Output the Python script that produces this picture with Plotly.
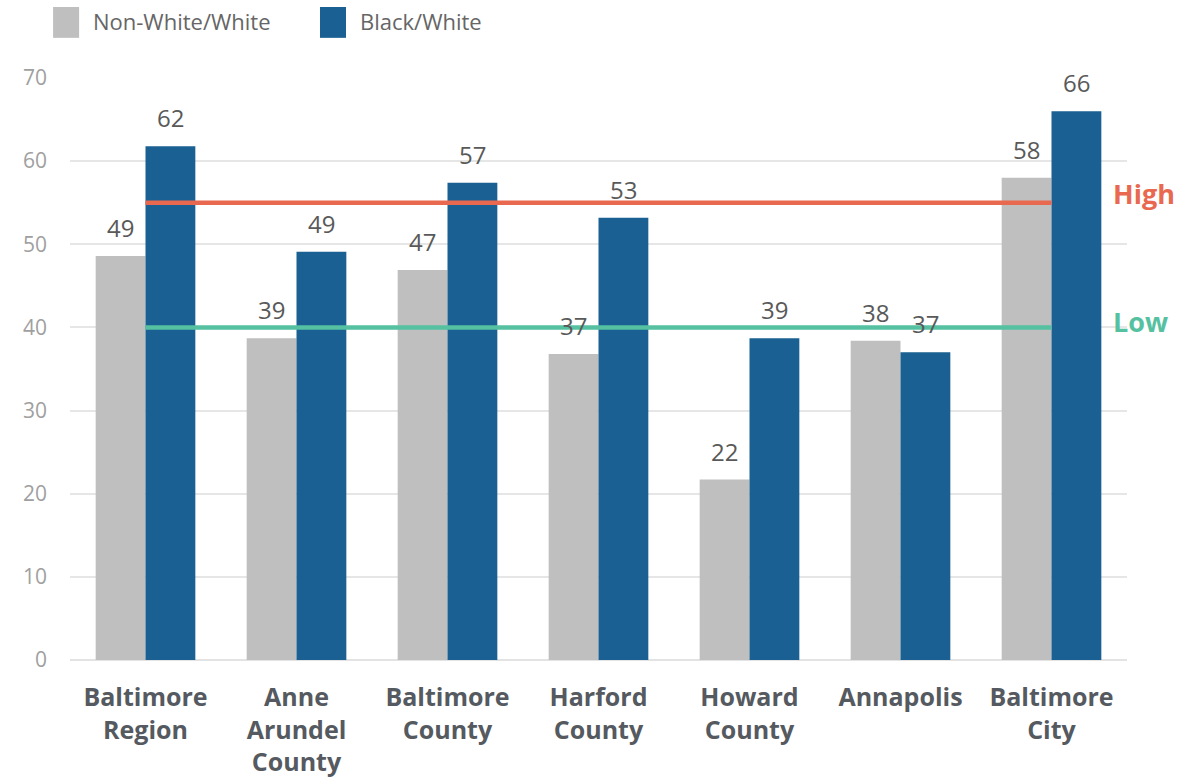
import plotly.graph_objects as go

categories = ["Baltimore<br>Region", "Anne<br>Arundel<br>County", "Baltimore<br>County",
              "Harford<br>County", "Howard<br>County", "Annapolis", "Baltimore<br>City"]
series_names = ["Non-White/White", "Black/White"]
non_white = [48.6, 38.7, 46.9, 36.8, 21.7, 38.4, 58.0]
black = [61.8, 49.1, 57.4, 53.2, 38.7, 37.0, 66.0]
threshold_names = ["High", "Low"]
threshold_values = [55, 40]
y_ticks = [0, 10, 20, 30, 40, 50, 60, 70]

GRAY = "#BFBFBF"
BLUE = "#1A6092"
RED = "#E8694F"
GREEN = "#55C1A0"
colors = [GRAY, BLUE]
thr_colors = [RED, GREEN]

BARGAP = 0.34
fig = go.Figure()
for name, vals, col in zip(series_names, [non_white, black], colors):
    fig.add_trace(go.Bar(x=categories, y=vals, name=name, marker=dict(color=col, line=dict(width=0)),
                         showlegend=False, hoverinfo="y"))

for name, val, col in zip(threshold_names, threshold_values, thr_colors):
    fig.add_trace(go.Scatter(x=[categories[0], categories[-1]], y=[val, val], mode="lines",
                             line=dict(color=col, width=4.5), showlegend=False, hoverinfo="skip"))

annotations = []
bw = (1 - BARGAP) / 2
for s, vals in enumerate([non_white, black]):
    off = (s - 0.5) * bw
    for i, v in enumerate(vals):
        annotations.append(dict(x=i + off, y=v, xref="x", yref="y", text=str(round(v)),
                                showarrow=False, yanchor="bottom", yshift=10,
                                font=dict(size=24, color="#595959", family="Open Sans")))

for name, val, col, ys in zip(threshold_names, threshold_values, thr_colors, [9, 6]):
    annotations.append(dict(x=0.985, y=val, xref="paper", yref="y", text="<b>%s</b>" % name,
                            showarrow=False, xanchor="left", yanchor="middle", yshift=ys,
                            font=dict(size=27, color=col, family="Open Sans")))

# manual legend
shapes = []
leg_x = [-0.016, 0.2365]
for name, col, lx in zip(series_names, colors, leg_x):
    shapes.append(dict(type="rect", xref="paper", yref="paper", x0=lx, x1=lx + 0.0246,
                       y0=1.069, y1=1.122, fillcolor=col, line=dict(width=0)))
    annotations.append(dict(x=lx + 0.036, y=1.0975, xref="paper", yref="paper", text=name,
                            showarrow=False, xanchor="left", yanchor="middle",
                            font=dict(size=22, color="#666666", family="Open Sans")))

fig.update_layout(
    width=1199, height=783,
    margin=dict(l=70, r=72, t=78, b=123),
    paper_bgcolor="white", plot_bgcolor="white",
    barmode="group", bargap=BARGAP, bargroupgap=0,
    font=dict(family="Open Sans"),
    annotations=annotations, shapes=shapes,
    xaxis=dict(type="category", showgrid=False, showline=False, ticks="", automargin=False,
               tickfont=dict(size=25, color="#555960", family="Open Sans"),
               tickprefix="<b>", ticksuffix="</b>", ticklabelstandoff=20),
    yaxis=dict(range=[0, 70], tickvals=y_ticks, showgrid=True, gridcolor="#E6E6E6", gridwidth=2,
               zeroline=True, zerolinecolor="#E3E3E3", zerolinewidth=2, showline=False, automargin=False,
               tickfont=dict(size=21, color="#A0A0A0", family="Open Sans"), ticklabelstandoff=22),
)

fig.write_html("out.html")
